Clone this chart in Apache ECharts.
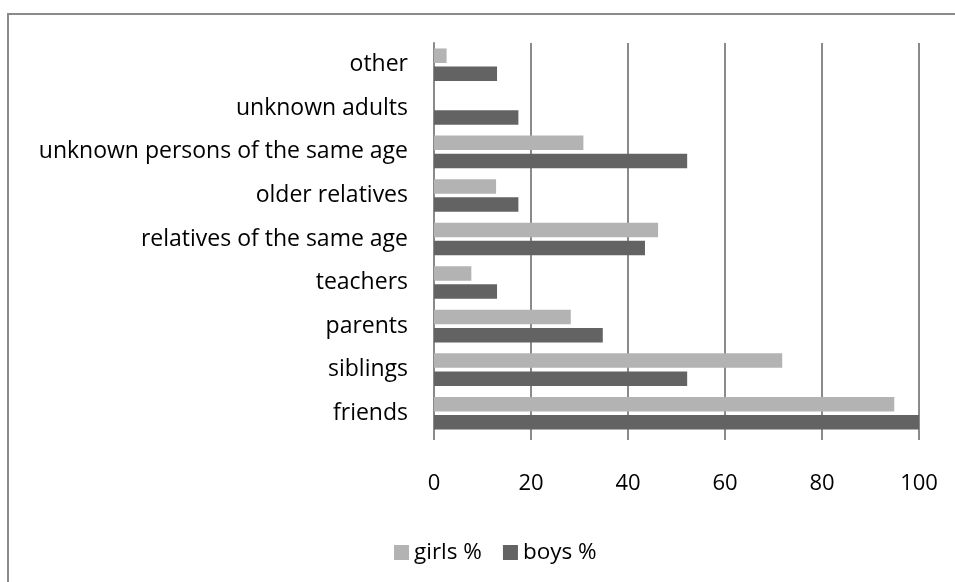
<!DOCTYPE html>
<html>
<head>
<meta charset="utf-8">
<script src="https://cdn.jsdelivr.net/npm/echarts@6/dist/echarts.min.js"></script>
<style>
html,body{margin:0;padding:0;background:#fff;}
#frame{position:absolute;left:7px;top:13px;width:960px;height:580px;border-top:2px solid #8a8a8a;border-left:2px solid #8a8a8a;box-sizing:border-box;}
#chart{position:absolute;left:0;top:0;width:955px;height:582px;}
</style>
</head>
<body>
<div id="frame"></div>
<div id="chart"></div>
<script>
const categories = ["friends", "siblings", "parents", "teachers", "relatives of the same age", "older relatives", "unknown persons of the same age", "unknown adults", "other"];
const girls = [94.9, 71.8, 28.2, 7.7, 46.2, 12.8, 30.8, 0, 2.6];
const boys = [100, 52.2, 34.8, 13.0, 43.5, 17.4, 52.2, 17.4, 13.0];
const xTicks = [0, 20, 40, 60, 80, 100];

const FONT = 'Open Sans';
const chart = echarts.init(document.getElementById('chart'));
chart.setOption({
  animation: false,
  backgroundColor: 'transparent',
  textStyle: {fontFamily: FONT},
  grid: {left: 434, right: 36, top: 43, bottom: 147},
  legend: {
    data: ['girls %', 'boys %'],
    left: 389, top: 536,
    itemWidth: 15, itemHeight: 15, itemGap: 21,
    icon: 'rect',
    textStyle: {fontFamily: FONT, fontSize: 22.5, color: '#000', padding: [0,0,0,0]}
  },
  xAxis: {
    type: 'value', min: xTicks[0], max: xTicks[xTicks.length-1], interval: 20,
    axisLine: {show: false},
    axisTick: {show: true, length: 5, lineStyle: {color: '#8a8a8a', width: 2}},
    splitLine: {show: true, lineStyle: {color: '#8a8a8a', width: 2}},
    axisLabel: {fontFamily: FONT, fontSize: 22, color: '#000', margin: 38}
  },
  yAxis: {
    type: 'category', data: categories,
    axisLine: {show: true, lineStyle: {color: '#8a8a8a', width: 2}},
    axisTick: {show: false},
    axisLabel: {fontFamily: FONT, fontSize: 23, color: '#000', margin: 26}
  },
  series: [
    {name: 'girls %', type: 'bar', data: girls, barWidth: 14.5, barGap: '25%',
     itemStyle: {color: '#b3b3b3'}},
    {name: 'boys %', type: 'bar', data: boys, barWidth: 14.5, barGap: '25%',
     itemStyle: {color: '#636363'}}
  ]
});
</script>
</body>
</html>
